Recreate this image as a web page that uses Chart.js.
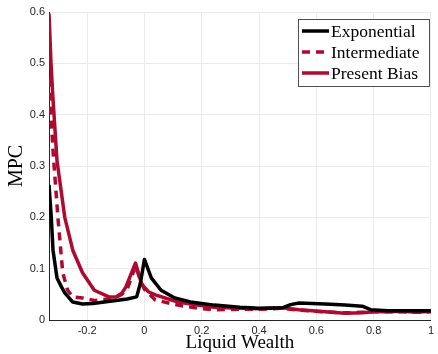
<!DOCTYPE html>
<html>
<head>
<meta charset="utf-8">
<script src="https://cdn.jsdelivr.net/npm/chart.js"></script>
<style>
  html, body { margin: 0; padding: 0; background: #fff; }
  #wrap { width: 438px; height: 354px; position: relative; }
</style>
</head>
<body>
<div id="wrap"><canvas id="mpc-chart"></canvas></div>
<script>
// Series
const expX = [-0.333, -0.325, -0.319, -0.305, -0.29, -0.278, -0.25, -0.216, -0.18, -0.14, -0.1, -0.06, -0.027, -0.014, 0, 0.024, 0.058, 0.106, 0.161, 0.244, 0.333, 0.4, 0.484, 0.51, 0.54, 0.63, 0.7, 0.76, 0.79, 0.85, 1.0];
const expY = [0.263, 0.2, 0.136, 0.082, 0.065, 0.053, 0.035, 0.031, 0.032, 0.035, 0.038, 0.041, 0.045, 0.072, 0.118, 0.082, 0.058, 0.043, 0.035, 0.029, 0.025, 0.023, 0.024, 0.03, 0.033, 0.031, 0.029, 0.027, 0.02, 0.018, 0.018];

const intX = [-0.333, -0.329, -0.319, -0.302, -0.292, -0.285, -0.268, -0.25, -0.216, -0.175, -0.124, -0.1, -0.079, -0.06, -0.031, -0.012, 0.0, 0.038, 0.117, 0.185, 0.244, 0.333, 0.4, 0.484, 0.539, 0.631, 0.7, 0.76, 0.8, 0.85, 0.9, 0.95, 1.0];
const intY = [0.47, 0.43, 0.33, 0.2, 0.136, 0.092, 0.058, 0.045, 0.043, 0.038, 0.041, 0.044, 0.05, 0.06, 0.105, 0.075, 0.06, 0.039, 0.029, 0.023, 0.02, 0.021, 0.021, 0.023, 0.019, 0.016, 0.014, 0.015, 0.016, 0.016, 0.016, 0.015, 0.016];

const pbX = [-0.333, -0.326, -0.319, -0.305, -0.278, -0.25, -0.216, -0.175, -0.124, -0.1, -0.079, -0.065, -0.031, -0.01, 0.014, 0.038, 0.117, 0.185, 0.244, 0.333, 0.4, 0.484, 0.539, 0.631, 0.7, 0.76, 0.8, 0.85, 0.9, 0.95, 1.0];
const pbY = [0.597, 0.5, 0.43, 0.31, 0.2, 0.136, 0.092, 0.058, 0.045, 0.045, 0.052, 0.064, 0.111, 0.07, 0.055, 0.049, 0.035, 0.029, 0.025, 0.023, 0.022, 0.024, 0.02, 0.016, 0.013, 0.014, 0.016, 0.016, 0.017, 0.015, 0.017];

const seriesNames = ['Exponential', 'Intermediate', 'Present Bias'];
const xTicks = [-0.2, 0, 0.2, 0.4, 0.6, 0.8, 1];
const yTicks = [0, 0.1, 0.2, 0.3, 0.4, 0.5, 0.6];

const RED = '#ae0a30';
const serif = '"Liberation Serif", "Times New Roman", serif';
const sans = '"Liberation Sans", Arial, sans-serif';

function toPoints(xs, ys) {
    return xs.map((x, i) => ({ x: x, y: ys[i] }));
}

// legend box drawn inside the plot, top right (like the MATLAB figure)
const boxLegend = {
    id: 'boxLegend',
    afterDraw(chart) {
        const ctx = chart.ctx;
        const left = 298, top = 19, w = 131, h = 67, rowH = 21;
        ctx.save();
        ctx.fillStyle = '#fff';
        ctx.fillRect(left, top, w, h);
        ctx.strokeStyle = '#262626';
        ctx.lineWidth = 0.8;
        ctx.strokeRect(left + 0.5, top + 0.5, w, h);
        chart.data.datasets.forEach((ds, i) => {
            const y = top + 12 + i * rowH;
            ctx.beginPath();
            ctx.strokeStyle = ds.borderColor;
            ctx.lineWidth = ds.borderWidth;
            ctx.setLineDash(ds.borderDash || []);
            ctx.moveTo(left + 4, y);
            ctx.lineTo(left + 31, y);
            ctx.stroke();
            ctx.setLineDash([]);
            ctx.fillStyle = '#000';
            ctx.font = '17.5px ' + serif;
            ctx.textBaseline = 'middle';
            ctx.fillText(ds.label, left + 33, y + 1);
        });
        ctx.restore();
    }
};

const ctx = document.getElementById('mpc-chart').getContext('2d');
const mpcChart = new Chart(ctx, {
    type: 'line',
    data: {
        datasets: [
            {
                label: seriesNames[0],
                data: toPoints(expX, expY),
                borderColor: '#000',
                borderWidth: 3.5
            },
            {
                label: seriesNames[1],
                data: toPoints(intX, intY),
                borderColor: RED,
                borderWidth: 3.5,
                borderDash: [8, 6]
            },
            {
                label: seriesNames[2],
                data: toPoints(pbX, pbY),
                borderColor: RED,
                borderWidth: 3.5
            }
        ]
    },
    options: {
        responsive: true,
        maintainAspectRatio: false,
        animation: false,
        layout: { padding: { top: 12, right: 1, left: 0, bottom: 0 } },
        elements: {
            point: { radius: 0 },
            line: { tension: 0, borderJoinStyle: 'round', borderCapStyle: 'butt' }
        },
        plugins: {
            legend: { display: false },
            tooltip: { enabled: false }
        },
        scales: {
            x: {
                type: 'linear',
                min: -0.333,
                max: 1,
                afterBuildTicks: (scale) => { scale.ticks = xTicks.map(v => ({ value: v })); },
                afterFit: (scale) => { scale.height = 34; },
                ticks: {
                    callback: (v) => String(v),
                    font: { family: sans, size: 11 },
                    color: '#262626',
                    padding: 4,
                    maxRotation: 0
                },
                grid: { color: '#ebebeb', drawTicks: false },
                border: { color: '#262626', width: 1 },
                title: {
                    display: true,
                    text: 'Liquid Wealth',
                    font: { family: serif, size: 19 },
                    color: '#000',
                    padding: { top: 0, bottom: 0 }
                }
            },
            y: {
                min: 0,
                max: 0.6,
                afterBuildTicks: (scale) => { scale.ticks = yTicks.map(v => ({ value: v })); },
                afterFit: (scale) => { scale.width = 49; },
                ticks: {
                    callback: (v) => String(v),
                    font: { family: sans, size: 11 },
                    color: '#262626',
                    padding: 4
                },
                grid: { color: '#ebebeb', drawTicks: false },
                border: { color: '#262626', width: 1 },
                title: {
                    display: true,
                    text: 'MPC',
                    font: { family: serif, size: 20 },
                    color: '#000',
                    padding: { top: 5, bottom: 0 }
                }
            }
        }
    },
    plugins: [boxLegend]
});
</script>
</body>
</html>
